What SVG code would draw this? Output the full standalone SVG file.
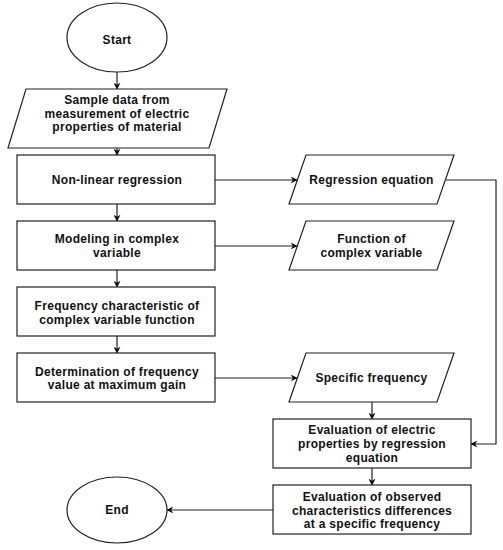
<svg xmlns="http://www.w3.org/2000/svg" width="503" height="550" viewBox="0 0 503 550">
<style>
.s{fill:#fff;stroke:#222;stroke-width:1.2}
.c{fill:none;stroke:#222;stroke-width:1.2}
text{font-family:"Liberation Sans",Arial,sans-serif;font-size:12px;font-weight:bold;fill:#111;text-anchor:middle;letter-spacing:0.3px}
</style>
<defs>
<marker id="a" viewBox="0 0 10 10" refX="9" refY="5" markerWidth="7" markerHeight="7" orient="auto" markerUnits="userSpaceOnUse">
<path d="M0,0 L10,5 L0,10 L3,5 z" fill="#111"/>
</marker>
</defs>
<rect width="503" height="550" fill="#fff"/>
<g id="connectors">
<line class="c" x1="117" y1="72" x2="117" y2="89" marker-end="url(#a)"/>
<line class="c" x1="117" y1="148" x2="117" y2="155" marker-end="url(#a)"/>
<line class="c" x1="117" y1="204" x2="117" y2="221" marker-end="url(#a)"/>
<line class="c" x1="117" y1="270" x2="117" y2="287" marker-end="url(#a)"/>
<line class="c" x1="117" y1="336" x2="117" y2="353" marker-end="url(#a)"/>
<line class="c" x1="215" y1="180" x2="297" y2="180" marker-end="url(#a)"/>
<line class="c" x1="215" y1="246" x2="297" y2="246" marker-end="url(#a)"/>
<line class="c" x1="215" y1="378" x2="297" y2="378" marker-end="url(#a)"/>
<polyline class="c" points="446,180 496,180 496,444 471,444" marker-end="url(#a)"/>
<line class="c" x1="372" y1="402" x2="372" y2="419" marker-end="url(#a)"/>
<line class="c" x1="372" y1="468" x2="372" y2="485" marker-end="url(#a)"/>
<line class="c" x1="273" y1="510" x2="167" y2="510" marker-end="url(#a)"/>
</g>
<g id="start">
<ellipse class="s" cx="117" cy="37.5" rx="50" ry="34.5"/>
<text x="117" y="44">Start</text>
</g>
<g id="sample">
<polygon class="s" points="26,89 227,89 209,148 8,148"/>
<text x="117" y="104">Sample data from</text>
<text x="117" y="118">measurement of electric</text>
<text x="117" y="131">properties of material</text>
</g>
<g id="nonlinear">
<rect class="s" x="17" y="155" width="198" height="49"/>
<text x="117" y="184">Non-linear regression</text>
</g>
<g id="modeling">
<rect class="s" x="17" y="221" width="198" height="49"/>
<text x="117" y="243">Modeling in complex</text>
<text x="117" y="257">variable</text>
</g>
<g id="frequency">
<rect class="s" x="17" y="287" width="198" height="49"/>
<text x="117" y="310">Frequency characteristic of</text>
<text x="117" y="323.5">complex variable function</text>
</g>
<g id="determination">
<rect class="s" x="17" y="353" width="198" height="49"/>
<text x="117" y="375.5">Determination of frequency</text>
<text x="117" y="389">value at maximum gain</text>
</g>
<g id="regeq">
<polygon class="s" points="306,155 454,155 437,204 289,204"/>
<text x="371.5" y="184">Regression equation</text>
</g>
<g id="function">
<polygon class="s" points="306,221 454,221 437,270 289,270"/>
<text x="371.5" y="243">Function of</text>
<text x="371.5" y="257">complex variable</text>
</g>
<g id="specific">
<polygon class="s" points="306,353 454,353 437,402 289,402"/>
<text x="371.5" y="382">Specific frequency</text>
</g>
<g id="eval1">
<rect class="s" x="273" y="419" width="198" height="49"/>
<text x="372" y="434">Evaluation of electric</text>
<text x="372" y="448">properties by regression</text>
<text x="372" y="462">equation</text>
</g>
<g id="eval2">
<rect class="s" x="273" y="485" width="198" height="49"/>
<text x="372" y="501">Evaluation of observed</text>
<text x="372" y="514.5">characteristics differences</text>
<text x="372" y="528">at a specific frequency</text>
</g>
<g id="end">
<ellipse class="s" cx="117" cy="510" rx="50" ry="33"/>
<text x="117" y="514">End</text>
</g>
</svg>
